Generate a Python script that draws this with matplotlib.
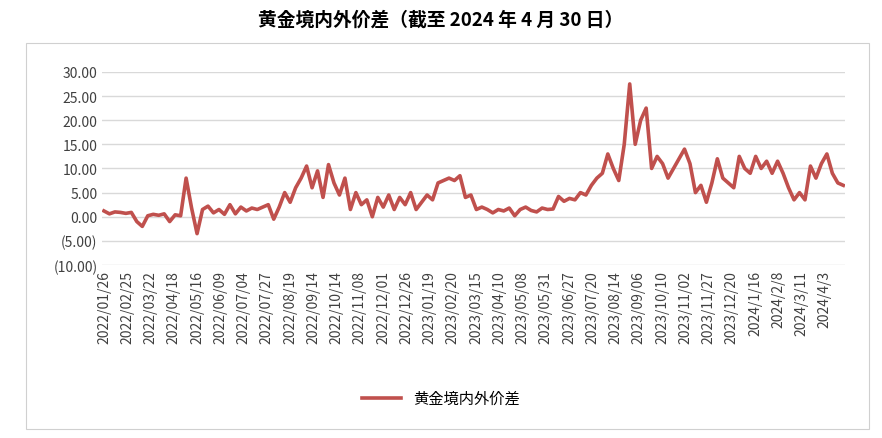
import matplotlib
matplotlib.use("Agg")
import matplotlib.pyplot as plt
from matplotlib import font_manager as fm
from matplotlib.patches import Rectangle

cjk = None
for f in fm.findSystemFonts():
    if "CJK" in f or "cjk" in f.lower():
        try:
            fm.fontManager.addfont(f)
        except Exception:
            pass
names = sorted({e.name for e in fm.fontManager.ttflist if "CJK" in e.name})
cjk = next((n for n in names if "SC" in n), names[0] if names else "DejaVu Sans")
serif = next((n for n in names if "Serif" in n and "SC" in n), cjk)
plt.rcParams["font.family"] = [cjk, "DejaVu Sans"]

tick_labels = ["2022/01/26","2022/02/25","2022/03/22","2022/04/18","2022/05/16","2022/06/09",
    "2022/07/04","2022/07/27","2022/08/19","2022/09/14","2022/10/14","2022/11/08","2022/12/01",
    "2022/12/26","2023/01/19","2023/02/20","2023/03/15","2023/04/10","2023/05/08","2023/05/31",
    "2023/06/27","2023/07/20","2023/08/14","2023/09/06","2023/10/10","2023/11/02","2023/11/27",
    "2023/12/20","2024/1/16","2024/2/8","2024/3/11","2024/4/3"]

spread = [1.2, 0.6, 1.0, 0.9, 0.7, 0.9, -1.0, -2.0, 0.2, 0.5, 0.3, 0.6,
          -1.0, 0.4, 0.2, 8.0, 1.8, -3.5, 1.5, 2.2, 0.8, 1.5, 0.5, 2.5,
          0.6, 2.0, 1.2, 1.8, 1.5, 2.0, 2.5, -0.5, 2.0, 5.0, 3.0, 6.0,
          8.0, 10.5, 6.0, 9.5, 4.0, 10.8, 7.0, 4.5, 8.0, 1.5, 5.0, 2.5,
          3.5, 0.0, 4.0, 2.0, 4.5, 1.5, 4.0, 2.5, 5.0, 1.5, 3.0, 4.5,
          3.5, 7.0, 7.5, 8.0, 7.5, 8.5, 4.0, 4.5, 1.5, 2.0, 1.5, 0.8,
          1.5, 1.2, 1.8, 0.2, 1.5, 2.0, 1.3, 1.0, 1.8, 1.5, 1.6, 4.2,
          3.2, 3.8, 3.5, 5.0, 4.5, 6.5, 8.0, 9.0, 13.0, 10.0, 7.5, 15.0,
          27.5, 15.0, 20.0, 22.5, 10.0, 12.5, 11.0, 8.0, 10.0, 12.0, 14.0, 11.0,
          5.0, 6.5, 3.0, 7.0, 12.0, 8.0, 7.0, 6.0, 12.5, 10.0, 9.0, 12.5,
          10.0, 11.5, 9.0, 11.5, 9.0, 6.0, 3.5, 5.0, 3.5, 10.5, 8.0, 11.0,
          13.0, 9.0, 7.0, 6.5]

x = list(range(len(spread)))
step = (len(spread) - 1) / 31.8

fig = plt.figure(figsize=(8.82, 4.39), dpi=100)
fig.patches.append(Rectangle((0.03, 0.02), 0.955, 0.88, transform=fig.transFigure,
                             fill=False, edgecolor="#d0d0d0", linewidth=0.8))
ax = fig.add_axes([0.116, 0.394, 0.842, 0.44])
ax.plot(x, spread, color="#C0504D", linewidth=2.6, label="黄金境内外价差")
ax.set_ylim(-10, 30)
ax.set_xlim(-0.3, len(spread) - 1 + 0.3)
yt = [-10, -5, 0, 5, 10, 15, 20, 25, 30]
ax.set_yticks(yt)
ax.set_yticklabels([f"({abs(v):.2f})" if v < 0 else f"{v:.2f}" for v in yt], fontsize=10, color="#404040")
ax.set_xticks([k * step for k in range(len(tick_labels))])
ax.set_xticklabels(tick_labels, rotation=90, fontsize=10, color="#404040")
ax.grid(axis="y", color="#d9d9d9", linewidth=1)
ax.tick_params(length=0)
for s in ax.spines.values():
    s.set_visible(False)
ax.set_axisbelow(True)
fig.text(0.5, 0.955, "黄金境内外价差（截至 2024 年 4 月 30 日）", ha="center", va="center",
         fontsize=13.5, fontweight="bold", family=[serif, cjk])
fig.legend(loc="center", bbox_to_anchor=(0.5, 0.09), frameon=False, fontsize=11, handlelength=2.6)
fig.savefig("out.png", dpi=100)
